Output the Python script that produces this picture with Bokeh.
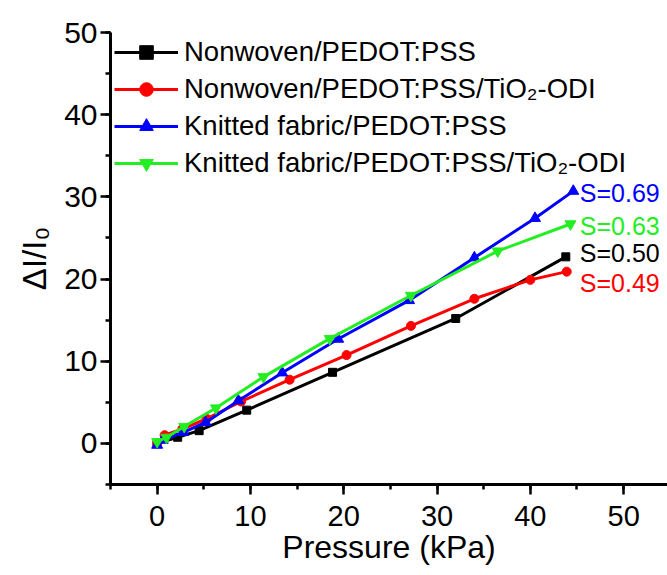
from bokeh.plotting import figure
from bokeh.models import Range1d, Legend, LegendItem, SingleIntervalTicker
from bokeh.core.properties import value
from bokeh.embed import file_html
from bokeh.resources import INLINE

# ---- data ----
series_names = [
    "Nonwoven/PEDOT:PSS",
    "Nonwoven/PEDOT:PSS/TiO\u2082-ODI",
    "Knitted fabric/PEDOT:PSS",
    "Knitted fabric/PEDOT:PSS/TiO\u2082-ODI",
]

nw_x = [0, 2.2, 4.5, 9.6, 18.8, 32.0, 43.8]
nw_y = [0, 0.75, 1.55, 4.05, 8.65, 15.2, 22.7]

nwt_x = [0, 0.8, 2.7, 5.3, 9.0, 14.2, 20.3, 27.2, 34.0, 40.0, 43.9]
nwt_y = [0, 1.0, 1.75, 3.0, 5.1, 7.75, 10.75, 14.3, 17.6, 19.9, 20.9]

kf_x = [0, 0.6, 2.8, 5.2, 8.7, 13.4, 19.4, 27.0, 34.0, 40.5, 44.6]
kf_y = [-0.2, 0.4, 1.35, 2.55, 5.2, 8.6, 12.7, 17.4, 22.6, 27.4, 30.7]

kft_x = [0, 1.0, 2.9, 6.3, 11.4, 18.5, 27.2, 36.5, 44.3]
kft_y = [0.2, 0.73, 2.05, 4.3, 8.1, 12.75, 18.0, 23.4, 26.7]

s_labels = ["S=0.69", "S=0.63", "S=0.50", "S=0.49"]
s_label_y = [30.5, 26.5, 23.2, 19.5]
s_label_x = [45.3, 45.3, 45.3, 45.3]

colors = ["#000000", "#FF0000", "#0000FF", "#22EE22"]
label_colors = ["#0000FF", "#22EE22", "#000000", "#FF0000"]
markers = ["square", "circle", "triangle", "inverted_triangle"]
marker_sizes = [8, 9, 11, 11]

FONT = "Liberation Sans"

p = figure(
    width=667, height=575,
    x_range=Range1d(-5, 54.7), y_range=Range1d(-5, 50),
    output_backend="svg", toolbar_location=None,
    min_border_left=110, min_border_right=0,
    min_border_top=32, min_border_bottom=91,
    x_axis_label="Pressure (kPa)", y_axis_label="\u0394I/I\u2080",
)
p.outline_line_color = None
p.xgrid.visible = False
p.ygrid.visible = False
p.background_fill_color = "white"
p.border_fill_color = "white"

for ax in (p.xaxis[0], p.yaxis[0]):
    ax.axis_line_width = 3
    ax.axis_line_color = "black"
    ax.major_tick_line_width = 2.5
    ax.minor_tick_line_width = 2.5
    ax.major_tick_line_color = "black"
    ax.minor_tick_line_color = "black"
    ax.major_tick_in = 0
    ax.major_tick_out = 10
    ax.minor_tick_in = 0
    ax.minor_tick_out = 5
    ax.major_label_text_font = FONT
    ax.major_label_text_color = "black"
    ax.axis_label_text_font = FONT
    ax.axis_label_text_font_style = "normal"
    ax.axis_label_text_color = "black"
    ax.ticker = SingleIntervalTicker(interval=10, num_minor_ticks=2)

p.xaxis[0].major_label_text_font_size = "29px"
p.yaxis[0].major_label_text_font_size = "30px"
p.xaxis[0].axis_label_text_font_size = "32px"
p.yaxis[0].axis_label_text_font_size = "33px"
p.xaxis[0].major_label_standoff = 11
p.xaxis[0].axis_label_standoff = 0
p.yaxis[0].major_label_standoff = 3
p.yaxis[0].axis_label_standoff = 8

xs = [nw_x, nwt_x, kf_x, kft_x]
ys = [nw_y, nwt_y, kf_y, kft_y]
items = []
for name, x, y, c, m, s in zip(series_names, xs, ys, colors, markers, marker_sizes):
    ln = p.line(x, y, line_color=c, line_width=3)
    sc = p.scatter(x, y, marker=m, size=s, fill_color=c, line_color=c)
    items.append(LegendItem(label=name, renderers=[ln, sc]))

p.text(x=s_label_x, y=s_label_y, text=s_labels, text_color=label_colors,
       text_font=value(FONT), text_font_size="25px",
       text_baseline="middle", text_align="left")

legend = Legend(
    items=items, location=(4, 304),
    label_text_font=FONT, label_text_font_size="27.5px", label_text_color="black",
    glyph_width=64, glyph_height=34, label_height=34, spacing=3,
    label_standoff=6, padding=4, margin=0,
    border_line_color=None, background_fill_alpha=0,
)
p.add_layout(legend, "center")

open("out.html", "w").write(file_html(p, INLINE))
